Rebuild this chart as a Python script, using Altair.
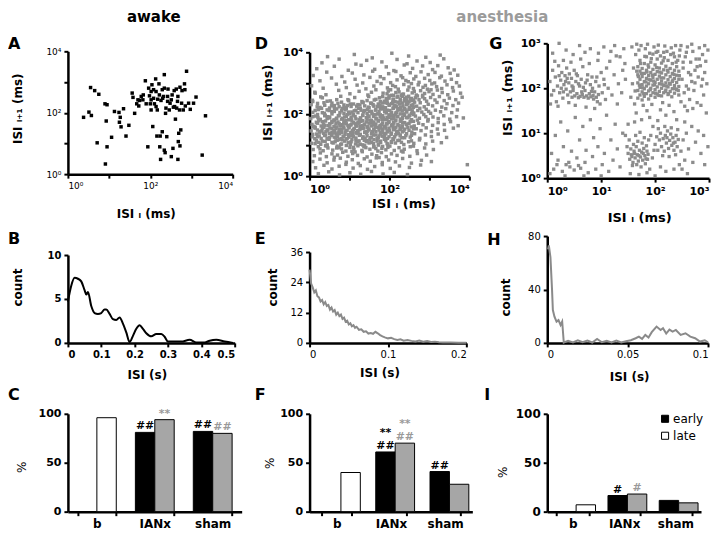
import altair as alt
import pandas as pd

F = "DejaVu Sans"
PT_GRAY = "#8c8c8c"
LINE_GRAY = "#8a8a8a"
TITLE_GRAY = "#9b9b9b"
LATE_GRAY = "#a6a6a6"
ANNOT_GRAY = "#9a9a9a"

# ---------------- A: awake return map, (log10 ISI_i, log10 ISI_i+1) in ms
A_points = [
    (0.38, 1.85), (0.51, 2.02), (0.57, 1.91), (0.55, 2.82), (0.65, 2.72), (0.75, 2.60),
    (0.71, 1.02), (0.90, 2.29), (0.95, 2.26), (0.93, 1.73), (0.95, 0.89), (0.91, 0.33),
    (1.06, 1.20), (1.13, 2.04), (1.24, 2.01), (1.27, 1.85), (1.25, 1.69), (1.29, 1.54),
    (1.35, 2.13), (1.41, 1.24), (1.48, 1.59), (1.56, 2.64), (1.58, 2.50), (1.62, 1.98),
    (1.67, 2.29), (1.70, 2.42), (1.74, 2.40), (1.72, 2.22), (1.78, 2.53), (1.83, 2.58),
    (1.88, 3.04), (1.90, 2.29), (1.94, 0.89), (1.96, 2.80), (1.98, 2.55), (2.00, 2.29),
    (2.02, 2.69), (2.02, 2.09), (2.04, 2.91), (2.06, 1.55), (2.08, 2.47), (2.10, 2.29),
    (2.13, 3.10), (2.14, 2.69), (2.14, 2.20), (2.16, 1.24), (2.17, 2.09), (2.18, 2.44),
    (2.21, 2.94), (2.22, 2.58), (2.23, 0.89), (2.24, 1.24), (2.25, 0.48), (2.26, 2.40),
    (2.29, 2.75), (2.29, 1.38), (2.30, 2.47), (2.32, 2.53), (2.34, 2.80), (2.34, 3.24),
    (2.34, 0.78), (2.36, 0.70), (2.37, 1.98), (2.40, 1.22), (2.42, 2.37), (2.43, 2.77),
    (2.46, 2.09), (2.48, 2.31), (2.51, 0.57), (2.53, 2.58), (2.55, 0.84), (2.56, 2.18),
    (2.58, 2.72), (2.59, 2.20), (2.61, 1.79), (2.63, 2.77), (2.64, 2.15), (2.66, 2.37),
    (2.67, 0.48), (2.68, 1.06), (2.69, 1.33), (2.71, 2.09), (2.72, 2.83), (2.72, 0.92),
    (2.74, 1.44), (2.76, 2.31), (2.77, 2.72), (2.80, 2.09), (2.83, 2.94), (2.84, 2.75),
    (2.85, 2.22), (2.88, 3.35), (2.93, 2.31), (2.97, 2.11), (3.05, 2.31), (3.11, 2.51),
    (3.26, 0.62), (3.34, 1.90), (1.82, 2.42), (2.02, 2.42), (2.42, 2.53), (2.51, 2.42),
    (2.38, 2.15), (2.67, 2.53), (2.08, 2.75),
]

# ---------------- D: anesthesia return map (log10 ms)
D_core = {
    1.21: [1.12, 1.47, 1.73, 2.05, 2.31], 1.27: [1.03, 1.35, 1.61, 1.88, 2.19],
    1.33: [1.22, 1.54, 1.79, 1.97, 2.38], 1.38: [0.98, 1.41, 1.66, 2.12, 2.27],
    1.44: [1.15, 1.30, 1.58, 1.84, 2.03, 2.44], 1.49: [1.07, 1.49, 1.71, 1.93, 2.21],
    1.55: [1.26, 1.38, 1.62, 1.80, 2.09, 2.35], 1.61: [0.94, 1.18, 1.52, 1.75, 1.99, 2.26],
    1.66: [1.33, 1.44, 1.68, 1.87, 2.15, 2.48], 1.72: [1.01, 1.24, 1.57, 1.79, 2.02, 2.33],
    1.77: [1.13, 1.40, 1.64, 1.91, 2.18, 2.41], 1.83: [0.96, 1.29, 1.51, 1.72, 1.95, 2.24, 2.57],
    1.88: [1.19, 1.36, 1.60, 1.83, 2.08, 2.37], 1.94: [1.05, 1.46, 1.69, 1.90, 2.13, 2.45, 2.66],
    1.99: [1.27, 1.55, 1.76, 1.98, 2.29, 2.52], 2.05: [1.09, 1.39, 1.63, 1.85, 2.06, 2.34, 2.61],
    2.10: [1.21, 1.50, 1.74, 1.96, 2.20, 2.48], 2.16: [1.34, 1.58, 1.81, 2.04, 2.27, 2.70],
    2.21: [1.15, 1.45, 1.67, 1.92, 2.14, 2.39, 2.58], 2.27: [1.30, 1.54, 1.78, 2.01, 2.23, 2.49],
    2.32: [1.43, 1.62, 1.86, 2.11, 2.36, 2.64], 2.38: [1.24, 1.52, 1.73, 1.97, 2.19, 2.43],
    2.43: [1.37, 1.66, 1.89, 2.07, 2.31, 2.55], 2.49: [1.48, 1.70, 1.94, 2.16, 2.40],
    2.55: [1.32, 1.59, 1.82, 2.03, 2.28, 2.51], 2.60: [1.53, 1.77, 1.99, 2.22, 2.46],
}
D_left = {
    0.08: [1.35, 1.92, 2.41], 0.14: [1.05, 1.58, 2.12, 2.68], 0.20: [1.27, 1.71, 1.99, 2.35],
    0.26: [0.88, 1.44, 1.83, 2.22], 0.32: [1.13, 1.56, 1.76, 2.05, 2.53],
    0.38: [1.31, 1.64, 1.95, 2.29], 0.44: [0.97, 1.22, 1.49, 1.86, 2.14, 2.42],
    0.50: [1.38, 1.68, 1.91, 2.20], 0.56: [1.09, 1.53, 1.74, 2.01, 2.36],
    0.62: [1.26, 1.45, 1.81, 2.09, 2.28], 0.68: [0.91, 1.36, 1.59, 1.87, 2.17, 2.47],
    0.74: [1.18, 1.50, 1.70, 1.96, 2.24], 0.80: [1.04, 1.41, 1.63, 1.84, 2.11, 2.39],
    0.86: [1.29, 1.55, 1.77, 2.02, 2.30], 0.92: [0.99, 1.20, 1.47, 1.69, 1.93, 2.18],
    0.98: [1.34, 1.60, 1.82, 2.07, 2.44], 1.04: [1.11, 1.42, 1.66, 1.89, 2.25],
    1.10: [0.93, 1.28, 1.51, 1.73, 2.00, 2.33], 1.16: [1.16, 1.39, 1.62, 1.85, 2.13],
}
D_top = [
    (0.45, 3.86), (1.12, 3.93), (1.57, 3.82), (2.06, 3.97), (2.48, 3.88), (2.91, 3.84), (3.27, 3.91),
    (0.31, 3.66), (0.74, 3.78), (1.16, 3.62), (1.43, 3.74), (1.81, 3.69), (2.19, 3.77), (2.44, 3.63),
    (2.69, 3.72), (3.02, 3.67), (3.36, 3.79),
    (0.18, 3.47), (0.62, 3.55), (0.97, 3.42), (1.29, 3.58), (1.63, 3.45), (1.92, 3.53), (2.11, 3.41),
    (2.37, 3.59), (2.58, 3.48), (2.83, 3.56), (3.08, 3.44), (3.21, 3.57), (3.47, 3.50), (3.62, 3.43),
    (0.09, 3.25), (0.43, 3.36), (0.81, 3.22), (1.07, 3.33), (1.36, 3.27), (1.58, 3.39), (1.77, 3.21),
    (1.98, 3.31), (2.16, 3.38), (2.29, 3.24), (2.52, 3.34), (2.66, 3.22), (2.79, 3.37), (2.97, 3.28),
    (3.14, 3.35), (3.30, 3.23), (3.52, 3.32), (3.71, 3.26),
    (0.26, 3.08), (0.55, 3.17), (0.88, 3.04), (1.14, 3.13), (1.33, 3.01), (1.51, 3.19), (1.69, 3.06),
    (1.86, 3.15), (2.03, 3.02), (2.19, 3.11), (2.33, 3.18), (2.47, 3.05), (2.61, 3.14), (2.74, 3.03),
    (2.88, 3.16), (3.01, 3.09), (3.13, 3.01), (3.26, 3.18), (3.39, 3.07), (3.55, 3.13), (3.68, 3.02),
    (2.41, 3.09),
    (0.05, 2.92), (0.34, 2.84), (0.67, 2.97), (0.92, 2.86), (1.19, 2.94), (1.41, 2.82), (1.61, 2.91),
    (1.79, 2.99), (1.95, 2.85), (2.08, 2.93), (2.22, 2.81), (2.36, 2.96), (2.49, 2.88), (2.60, 2.83),
    (2.72, 2.95), (2.84, 2.87), (2.95, 2.81), (3.06, 2.98), (3.18, 2.89), (3.31, 2.83), (3.44, 2.95),
    (3.58, 2.86), (3.75, 2.91), (2.15, 2.89), (2.55, 2.99), (2.90, 2.93),
    (0.13, 2.71), (0.41, 2.63), (0.73, 2.77), (1.01, 2.66), (1.24, 2.74), (1.46, 2.62), (1.66, 2.79),
    (1.84, 2.68), (1.97, 2.75), (2.10, 2.61), (2.24, 2.72), (2.35, 2.65), (2.46, 2.78), (2.57, 2.69),
    (2.67, 2.62), (2.78, 2.76), (2.88, 2.67), (2.99, 2.73), (3.09, 2.64), (3.20, 2.78), (3.32, 2.70),
    (3.46, 2.63), (3.60, 2.75), (3.78, 2.68), (2.03, 2.79), (2.30, 2.61), (2.62, 2.74), (2.83, 2.61),
    (3.04, 2.79), (1.55, 2.71),
    (0.07, 2.45), (0.28, 2.56), (0.52, 2.43), (0.78, 2.58), (0.96, 2.47), (1.13, 2.54), (1.31, 2.41),
    (1.48, 2.57), (1.62, 2.46), (1.75, 2.53), (1.87, 2.42), (1.99, 2.59), (2.09, 2.48), (2.19, 2.55),
    (2.28, 2.43), (2.38, 2.51), (2.48, 2.58), (2.56, 2.44), (2.65, 2.53), (2.74, 2.47), (2.83, 2.56),
    (2.93, 2.42), (3.03, 2.54), (3.14, 2.46), (3.25, 2.57), (3.37, 2.44), (3.50, 2.52), (3.66, 2.47),
    (3.82, 2.55), (2.14, 2.41), (2.33, 2.58), (2.52, 2.49), (2.70, 2.59), (2.88, 2.50), (1.92, 2.51),
    (2.43, 2.45),
]
D_mid = [
    (0.04, 2.31), (0.19, 2.24), (0.36, 2.37), (0.55, 2.27), (0.71, 2.35), (0.87, 2.22), (1.02, 2.33),
    (1.18, 2.26), (1.34, 2.38), (1.47, 2.23), (1.59, 2.31), (1.70, 2.25), (1.81, 2.36), (1.90, 2.21),
    (2.00, 2.30), (2.08, 2.38), (2.17, 2.24), (2.25, 2.33), (2.34, 2.27), (2.42, 2.39), (2.50, 2.22),
    (2.59, 2.31), (2.68, 2.26), (2.77, 2.37), (2.87, 2.24), (2.97, 2.32), (3.08, 2.27), (3.19, 2.38),
    (3.31, 2.23), (3.44, 2.34), (3.59, 2.28), (3.73, 2.36), (1.26, 2.30), (1.53, 2.36), (1.76, 2.28),
    (1.95, 2.35), (2.12, 2.29), (2.29, 2.21), (2.46, 2.34), (2.63, 2.39), (0.95, 2.28), (0.62, 2.21),
    (0.08, 2.06), (0.22, 2.15), (0.37, 2.03), (0.49, 2.12), (0.63, 2.18), (0.76, 2.05), (0.89, 2.14),
    (1.00, 2.01), (1.12, 2.11), (1.23, 2.19), (1.35, 2.07), (1.45, 2.16), (1.56, 2.02), (1.65, 2.13),
    (1.74, 2.08), (1.83, 2.17), (1.92, 2.04), (2.01, 2.12), (2.09, 2.19), (2.18, 2.06), (2.26, 2.14),
    (2.35, 2.01), (2.43, 2.10), (2.52, 2.17), (2.61, 2.04), (2.71, 2.12), (2.81, 2.07), (2.92, 2.16),
    (3.03, 2.03), (3.15, 2.13), (3.28, 2.08), (3.41, 2.18), (3.56, 2.05), (3.70, 2.14), (0.30, 2.19),
    (0.56, 2.08), (0.82, 2.19), (1.06, 2.07), (1.29, 2.13), (1.50, 2.09), (1.70, 2.01), (1.88, 2.11),
    (2.05, 2.05), (2.22, 2.18), (2.39, 2.15), (2.57, 2.11), (2.76, 2.19), (2.98, 2.09),
    (0.03, 1.86), (0.15, 1.94), (0.27, 1.83), (0.39, 1.97), (0.50, 1.88), (0.61, 1.81), (0.72, 1.95),
    (0.83, 1.87), (0.94, 1.99), (1.04, 1.84), (1.14, 1.92), (1.24, 1.82), (1.33, 1.96), (1.42, 1.89),
    (1.51, 1.81), (1.60, 1.93), (1.68, 1.85), (1.77, 1.98), (1.85, 1.88), (1.94, 1.82), (2.02, 1.95),
    (2.11, 1.86), (2.19, 1.93), (2.28, 1.84), (2.37, 1.97), (2.46, 1.89), (2.55, 1.82), (2.65, 1.94),
    (2.75, 1.87), (2.86, 1.99), (2.97, 1.83), (3.09, 1.91), (3.22, 1.86), (3.36, 1.95), (3.51, 1.84),
    (3.68, 1.92), (3.85, 1.88), (0.21, 1.89), (0.45, 1.92), (0.67, 1.86), (0.88, 1.91), (1.09, 1.97),
    (1.28, 1.87), (1.46, 1.95), (1.64, 1.98), (1.81, 1.83), (1.98, 1.90), (2.15, 1.98), (2.33, 1.90),
    (2.51, 1.97), (2.70, 1.81), (2.91, 1.92),
    (0.06, 1.67), (0.17, 1.74), (0.29, 1.62), (0.40, 1.78), (0.51, 1.69), (0.61, 1.61), (0.71, 1.75),
    (0.81, 1.66), (0.91, 1.79), (1.01, 1.64), (1.10, 1.72), (1.19, 1.62), (1.28, 1.77), (1.37, 1.68),
    (1.46, 1.60), (1.55, 1.73), (1.63, 1.65), (1.72, 1.78), (1.81, 1.67), (1.89, 1.61), (1.98, 1.74),
    (2.07, 1.66), (2.15, 1.79), (2.24, 1.63), (2.33, 1.72), (2.42, 1.68), (2.52, 1.76), (2.62, 1.62),
    (2.73, 1.71), (2.84, 1.66), (2.96, 1.78), (3.08, 1.64), (3.22, 1.73), (3.37, 1.67), (3.53, 1.76),
    (3.72, 1.63), (0.11, 1.61), (0.23, 1.79), (0.35, 1.68), (0.46, 1.63), (0.56, 1.77), (0.66, 1.70),
    (0.76, 1.62), (0.86, 1.71), (0.96, 1.63), (1.06, 1.78), (1.15, 1.69), (1.24, 1.71), (1.33, 1.63),
    (1.42, 1.75), (1.59, 1.69), (1.76, 1.61), (1.93, 1.69), (2.11, 1.71), (2.29, 1.77),
    (0.04, 1.46), (0.14, 1.55), (0.25, 1.42), (0.36, 1.58), (0.46, 1.49), (0.56, 1.41), (0.66, 1.53),
    (0.75, 1.45), (0.85, 1.59), (0.94, 1.48), (1.03, 1.40), (1.12, 1.54), (1.21, 1.46), (1.30, 1.57),
    (1.39, 1.43), (1.48, 1.52), (1.57, 1.44), (1.65, 1.58), (1.74, 1.49), (1.83, 1.41), (1.91, 1.55),
    (2.00, 1.47), (2.09, 1.59), (2.18, 1.43), (2.27, 1.51), (2.36, 1.46), (2.46, 1.57), (2.56, 1.42),
    (2.67, 1.53), (2.79, 1.47), (2.92, 1.56), (3.05, 1.44), (3.20, 1.52), (3.38, 1.48), (3.60, 1.55),
    (0.09, 1.59), (0.20, 1.49), (0.31, 1.47), (0.41, 1.44), (0.51, 1.56), (0.61, 1.48), (0.71, 1.40),
    (0.80, 1.51), (0.89, 1.43), (0.99, 1.56), (1.08, 1.47), (1.17, 1.41), (1.26, 1.50), (1.35, 1.55),
    (1.44, 1.45), (1.61, 1.50), (1.79, 1.56), (1.96, 1.43), (2.13, 1.52), (2.32, 1.58),
    (0.07, 1.27), (0.18, 1.36), (0.29, 1.22), (0.40, 1.33), (0.50, 1.25), (0.60, 1.39), (0.70, 1.28),
    (0.79, 1.21), (0.89, 1.35), (0.98, 1.26), (1.07, 1.38), (1.16, 1.23), (1.25, 1.32), (1.34, 1.27),
    (1.43, 1.39), (1.52, 1.24), (1.60, 1.33), (1.69, 1.21), (1.78, 1.36), (1.87, 1.29), (1.95, 1.22),
    (2.04, 1.35), (2.13, 1.27), (2.22, 1.38), (2.31, 1.24), (2.41, 1.31), (2.52, 1.26), (2.63, 1.37),
    (2.76, 1.22), (2.90, 1.33), (3.05, 1.28), (3.22, 1.36), (3.43, 1.25), (0.13, 1.21), (0.24, 1.30),
    (0.35, 1.38), (0.45, 1.20), (0.55, 1.31), (0.65, 1.23), (0.75, 1.37), (0.84, 1.28), (0.94, 1.21),
    (1.03, 1.30), (1.21, 1.37), (1.39, 1.22), (1.56, 1.38), (1.74, 1.30), (1.91, 1.37), (2.09, 1.21),
    (2.27, 1.33),
    (0.05, 1.06), (0.17, 1.15), (0.28, 1.03), (0.39, 1.12), (0.49, 1.19), (0.59, 1.07), (0.69, 1.16),
    (0.78, 1.02), (0.88, 1.13), (0.97, 1.08), (1.06, 1.18), (1.15, 1.04), (1.24, 1.14), (1.33, 1.01),
    (1.42, 1.11), (1.51, 1.17), (1.60, 1.05), (1.69, 1.13), (1.78, 1.09), (1.87, 1.19), (1.96, 1.03),
    (2.05, 1.12), (2.15, 1.07), (2.25, 1.16), (2.36, 1.02), (2.48, 1.11), (2.61, 1.06), (2.75, 1.17),
    (2.91, 1.04), (3.08, 1.13), (3.30, 1.08), (0.23, 1.09), (0.44, 1.01), (0.64, 1.11), (0.83, 1.17),
    (1.02, 1.03), (1.19, 1.10), (1.37, 1.16), (1.55, 1.09), (1.73, 1.01), (1.91, 1.14), (2.10, 1.18),
    (2.30, 1.09), (2.55, 1.14),
]
D_low = [
    (0.09, 0.86), (0.22, 0.95), (0.34, 0.82), (0.46, 0.91), (0.58, 0.84), (0.69, 0.97), (0.80, 0.88),
    (0.91, 0.81), (1.01, 0.93), (1.11, 0.86), (1.21, 0.98), (1.31, 0.83), (1.41, 0.92), (1.51, 0.87),
    (1.61, 0.96), (1.71, 0.81), (1.81, 0.90), (1.91, 0.85), (2.01, 0.97), (2.12, 0.83), (2.24, 0.92),
    (2.37, 0.87), (2.52, 0.95), (2.69, 0.82), (2.88, 0.91), (3.10, 0.86), (0.40, 0.98), (0.74, 0.92),
    (1.06, 0.80), (1.36, 0.95), (1.66, 0.89), (1.96, 0.93), (2.30, 0.81), (2.60, 0.97),
    (0.12, 0.66), (0.27, 0.75), (0.42, 0.63), (0.56, 0.72), (0.70, 0.68), (0.83, 0.77), (0.96, 0.64),
    (1.08, 0.73), (1.20, 0.67), (1.32, 0.79), (1.44, 0.62), (1.56, 0.71), (1.68, 0.66), (1.80, 0.76),
    (1.92, 0.63), (2.05, 0.72), (2.19, 0.67), (2.34, 0.78), (2.51, 0.64), (2.70, 0.73), (2.93, 0.68),
    (0.62, 0.61), (1.14, 0.78), (1.74, 0.60),
    (0.08, 0.47), (0.26, 0.55), (0.44, 0.43), (0.61, 0.52), (0.77, 0.58), (0.92, 0.45), (1.07, 0.53),
    (1.22, 0.41), (1.37, 0.56), (1.52, 0.48), (1.67, 0.59), (1.82, 0.44), (1.98, 0.52), (2.15, 0.46),
    (2.33, 0.57), (2.55, 0.42), (2.80, 0.51), (3.05, 0.47),
    (0.15, 0.27), (0.36, 0.35), (0.56, 0.23), (0.74, 0.32), (0.91, 0.38), (1.09, 0.26), (1.27, 0.34),
    (1.45, 0.22), (1.63, 0.31), (1.82, 0.37), (2.02, 0.25), (2.25, 0.33), (2.50, 0.28), (2.78, 0.36),
    (0.22, 0.08), (0.48, 0.14), (0.75, 0.04), (1.01, 0.11), (1.28, 0.06), (1.55, 0.15), (1.84, 0.07),
    (2.12, 0.12), (2.45, 0.05), (3.95, 0.37),
]

# ---------------- G: anesthesia return map, second unit (log10 ms)
G_upper_left = [
    (0.05, 2.15), (0.08, 1.85), (0.10, 2.40), (0.12, 1.95), (0.15, 2.25), (0.17, 1.70),
    (0.19, 2.05), (0.21, 2.50), (0.23, 1.90), (0.25, 2.18), (0.27, 2.35), (0.29, 1.78),
    (0.31, 2.08), (0.33, 2.28), (0.35, 1.98), (0.36, 2.45), (0.38, 1.85), (0.40, 2.12),
    (0.41, 2.32), (0.43, 1.92), (0.45, 2.22), (0.46, 1.80), (0.48, 2.02), (0.50, 2.40),
    (0.51, 1.83), (0.53, 2.15), (0.55, 1.88), (0.56, 2.28), (0.58, 1.79), (0.60, 2.05),
    (0.61, 1.82), (0.63, 2.20), (0.65, 1.86), (0.66, 2.48), (0.68, 1.80), (0.70, 1.95),
    (0.71, 2.12), (0.73, 1.83), (0.75, 2.30), (0.76, 1.78), (0.78, 1.88), (0.80, 2.08),
    (0.81, 1.81), (0.83, 2.25), (0.85, 1.84), (0.86, 1.76), (0.88, 1.92), (0.90, 2.15),
    (0.91, 1.80), (0.93, 1.70), (0.95, 1.86), (0.96, 2.05), (0.98, 1.65), (1.00, 2.35),
    (1.02, 1.90), (1.05, 2.20), (1.08, 1.75), (1.10, 2.45), (1.13, 2.00), (1.16, 2.60),
    (1.20, 1.85), (1.24, 2.30), (1.28, 2.72), (1.32, 2.10),
    (0.14, 2.60), (0.30, 2.62), (0.44, 2.58), (0.62, 2.65), (0.78, 2.55), (0.94, 2.62),
    (0.20, 1.60), (0.52, 1.62), (0.72, 1.58), (0.88, 1.55), (0.40, 1.68), (0.06, 1.65),
    (0.34, 2.15), (0.58, 2.10), (0.46, 2.05), (0.26, 2.00), (0.67, 2.02), (0.84, 2.00),
    (0.37, 2.22), (0.54, 2.32), (0.22, 2.28), (0.74, 2.18), (0.92, 2.25), (0.64, 1.92),
    (0.48, 1.95), (0.30, 1.92), (0.82, 1.93), (1.06, 2.08),
    (0.22, 3.00), (0.35, 2.85), (0.48, 2.75), (0.60, 2.95), (0.80, 2.88), (0.95, 2.78),
    (1.05, 2.92), (1.18, 2.82), (1.25, 2.95), (1.35, 2.70), (1.42, 2.88), (0.10, 2.78),
    (0.70, 2.80), (1.40, 2.40), (1.45, 2.20), (1.38, 1.90), (1.30, 1.65), (1.44, 2.55),
]
G_core = {
    1.68: [1.78, 1.95, 2.12, 2.30, 2.48], 1.72: [1.85, 2.02, 2.20, 2.38, 2.62],
    1.76: [1.74, 1.92, 2.08, 2.26, 2.44], 1.80: [1.82, 1.99, 2.15, 2.33, 2.55],
    1.84: [1.88, 2.05, 2.22, 2.40, 2.70], 1.88: [1.76, 1.94, 2.10, 2.28, 2.47],
    1.92: [1.84, 2.00, 2.18, 2.35, 2.58], 1.96: [1.90, 2.07, 2.24, 2.42, 2.76],
    2.00: [1.80, 1.97, 2.13, 2.31, 2.52], 2.04: [1.87, 2.03, 2.20, 2.37, 2.65],
    2.08: [1.93, 2.10, 2.27, 2.45], 2.12: [1.83, 2.00, 2.16, 2.34, 2.56],
    2.16: [1.90, 2.06, 2.23, 2.41, 2.80], 2.20: [1.96, 2.12, 2.30, 2.49],
    2.24: [1.86, 2.03, 2.19, 2.36, 2.62], 2.28: [1.93, 2.09, 2.26, 2.44],
    2.32: [1.99, 2.15, 2.33, 2.55], 2.36: [1.89, 2.06, 2.22, 2.40, 2.70],
    2.40: [1.97, 2.13, 2.29, 2.48], 2.44: [1.85, 2.04, 2.20, 2.38],
}
G_core_extra = [
    (1.71, 2.07), (1.75, 2.33), (1.79, 1.88), (1.83, 2.14), (1.87, 2.52), (1.91, 1.97), (1.95, 2.29),
    (1.99, 2.08), (2.03, 2.46), (2.07, 1.84), (2.11, 2.23), (2.15, 2.61), (2.19, 1.93), (2.23, 2.40),
    (2.27, 2.11), (2.31, 1.81), (2.35, 2.31), (2.39, 2.58), (2.43, 1.95), (1.73, 2.55), (1.81, 2.71),
    (1.93, 2.66), (2.05, 2.82), (2.17, 2.68), (2.29, 2.75), (1.69, 2.26), (1.85, 2.36), (1.97, 2.16),
    (2.09, 2.36), (2.21, 2.05), (2.33, 2.18), (2.45, 2.28), (1.77, 2.01), (1.89, 2.19), (2.01, 1.89),
    (2.13, 2.09), (2.25, 1.88), (2.37, 1.99), (1.63, 1.94), (1.66, 2.38),
]
G_upper_right = [
    (1.55, 1.80), (1.58, 2.10), (1.60, 2.45), (1.62, 1.65), (1.64, 2.75), (1.57, 2.92),
    (1.66, 2.98), (1.70, 2.85), (1.74, 2.95), (1.78, 1.62), (1.82, 2.88), (1.86, 2.98),
    (1.90, 2.78), (1.94, 1.64), (1.98, 2.92), (2.02, 2.80), (2.06, 2.96), (2.10, 2.72),
    (2.14, 1.68), (2.18, 2.94), (2.22, 2.82), (2.26, 1.62), (2.30, 2.90), (2.34, 2.78),
    (2.38, 2.95), (2.42, 2.62), (2.46, 2.85), (2.48, 1.70), (2.50, 2.20), (2.52, 2.45),
    (2.54, 1.90), (2.56, 2.70), (2.58, 2.05), (2.60, 2.92), (2.62, 2.35), (2.64, 1.75),
    (2.66, 2.58), (2.68, 2.15), (2.70, 2.82), (2.72, 1.95), (2.74, 2.40), (2.76, 2.65),
    (2.78, 1.68), (2.80, 2.25), (2.82, 2.90), (2.84, 2.50), (2.86, 2.05), (2.88, 2.75),
    (2.90, 1.85), (2.92, 2.35), (2.94, 2.60), (2.96, 2.10), (2.98, 2.85), (2.55, 1.60),
    (2.70, 1.55), (2.85, 1.62), (2.95, 1.45), (2.60, 1.50), (2.45, 2.72), (2.52, 2.58),
    (2.66, 2.30), (2.78, 2.48), (2.88, 2.20), (2.62, 1.98), (2.74, 2.12), (2.58, 2.80),
    (2.48, 2.95), (2.68, 2.98), (2.82, 2.65), (2.92, 2.95),
]
G_lower_right = [
    (1.50, 0.55), (1.53, 0.42), (1.55, 0.65), (1.57, 0.48), (1.59, 0.35), (1.61, 0.60),
    (1.63, 0.45), (1.65, 0.70), (1.67, 0.52), (1.69, 0.38), (1.71, 0.62), (1.73, 0.47),
    (1.75, 0.58), (1.77, 0.40), (1.79, 0.66), (1.81, 0.50), (1.83, 0.43), (1.85, 0.60),
    (1.87, 0.53), (1.60, 0.75), (1.68, 0.82), (1.76, 0.78), (1.84, 0.72), (1.58, 0.28),
    (1.66, 0.30), (1.74, 0.25), (1.82, 0.32), (1.52, 0.85), (1.64, 0.95), (1.72, 1.02),
    (1.80, 0.90), (1.88, 0.85), (1.62, 0.55), (1.70, 0.50), (1.78, 0.55), (1.56, 0.52),
    (1.86, 0.42),
    (2.00, 0.75), (2.03, 0.92), (2.05, 0.62), (2.08, 0.85), (2.10, 1.00), (2.12, 0.70),
    (2.15, 0.88), (2.17, 0.60), (2.19, 0.95), (2.21, 0.78), (2.23, 1.05), (2.25, 0.66),
    (2.27, 0.84), (2.29, 0.98), (2.31, 0.73), (2.33, 0.90), (2.35, 0.62), (2.37, 0.80),
    (2.39, 0.95), (2.41, 0.70), (2.43, 0.86), (2.06, 1.10), (2.18, 1.15), (2.30, 1.12),
    (2.42, 1.08), (2.14, 0.50), (2.26, 0.48), (2.38, 0.52), (2.22, 0.90), (2.34, 0.78),
    (1.90, 0.20), (1.95, 0.45), (1.98, 0.62), (1.92, 0.95), (1.96, 1.15), (2.48, 0.60),
    (2.52, 0.85), (2.55, 0.40), (2.58, 1.00), (2.50, 0.20), (2.62, 0.65), (2.45, 0.30),
    (2.10, 0.25), (2.20, 0.15), (2.35, 0.20), (2.60, 0.10), (2.70, 0.35), (2.75, 0.80),
    (2.85, 0.55), (2.92, 0.30), (1.54, 0.10), (1.70, 0.08), (1.85, 0.12), (2.00, 0.05),
    (1.48, 0.70), (1.45, 0.95), (1.50, 1.20), (1.62, 1.25), (1.75, 1.30), (1.90, 1.35),
    (2.05, 1.28), (2.20, 1.40), (2.40, 1.30), (2.55, 1.25), (2.68, 1.15), (2.80, 1.05),
    (2.90, 0.95), (2.98, 0.70), (1.65, 1.45), (1.85, 1.50), (2.10, 1.52), (2.35, 1.48),
]
G_lower_left = [
    (0.08, 0.55), (0.12, 0.20), (0.15, 0.95), (0.20, 0.40), (0.25, 1.25), (0.28, 0.15),
    (0.30, 0.70), (0.35, 0.30), (0.38, 1.05), (0.42, 0.25), (0.45, 0.60), (0.50, 0.18),
    (0.52, 1.35), (0.55, 0.45), (0.60, 0.85), (0.62, 0.22), (0.66, 1.15), (0.70, 0.35),
    (0.72, 0.62), (0.76, 0.12), (0.80, 1.30), (0.84, 0.48), (0.86, 0.90), (0.90, 0.20),
    (0.94, 0.70), (0.98, 1.10), (1.02, 0.30), (1.06, 0.55), (1.10, 1.40), (1.14, 0.15),
    (1.18, 0.85), (1.22, 0.40), (1.26, 1.20), (1.30, 0.65), (1.35, 0.25), (1.40, 1.00),
    (0.18, 0.30), (0.40, 0.35), (0.58, 0.28), (0.05, 0.10), (0.33, 0.05), (0.68, 0.05),
    (1.00, 0.05),
]

# ---------------- B, E, H: ISI histograms (s, count)
B_isi = [0, 0.01, 0.02, 0.03, 0.04, 0.05, 0.055, 0.06, 0.07, 0.08, 0.09, 0.10, 0.11, 0.115,
         0.125, 0.135, 0.145, 0.155, 0.165, 0.175, 0.185, 0.195, 0.205, 0.215, 0.225, 0.235,
         0.25, 0.265, 0.28, 0.29, 0.30, 0.32, 0.34, 0.365, 0.385, 0.41, 0.425, 0.445, 0.47, 0.495]
B_count = [4.7, 6.5, 7.4, 7.3, 7.0, 6.0, 5.5, 5.8, 4.2, 3.4, 3.3, 3.4, 3.8, 3.8,
           3.3, 2.7, 2.6, 2.9, 2.2, 1.2, 0.1, 0.8, 1.6, 2.0, 1.6, 1.1,
           0.75, 1.0, 1.0, 0.7, 0.15, 0.15, 0.15, 0.35, 0.05, 0.05, 0.25, 0.35, 0.15, 0.0]

E_isi = [0, 0.002, 0.004, 0.006, 0.008, 0.010, 0.012, 0.014, 0.016, 0.018, 0.020, 0.022,
         0.024, 0.026, 0.028, 0.030, 0.032, 0.034, 0.036, 0.038, 0.040, 0.042, 0.044, 0.046,
         0.048, 0.050, 0.052, 0.054, 0.056, 0.058, 0.060, 0.063, 0.066, 0.069, 0.072, 0.075,
         0.078, 0.081, 0.084, 0.087, 0.090, 0.093, 0.096, 0.100, 0.104, 0.108, 0.112, 0.116,
         0.120, 0.125, 0.130, 0.135, 0.140, 0.145, 0.150, 0.155, 0.160, 0.165, 0.170, 0.180,
         0.190, 0.200]
E_count = [29, 23.5, 22, 20, 20.8, 18.5, 18, 16.4, 17, 15.3, 16.2, 14.6,
           15, 13.2, 14, 12.4, 13, 11.2, 12, 10.6, 11.2, 9.5, 10, 8.4,
           8.8, 7.3, 7.8, 6.6, 7, 6, 6.4, 5.2, 5.4, 4.4, 4.6, 3.7,
           3.9, 3.6, 4.4, 3.8, 3.1, 2.6, 2.2, 1.8, 2.0, 1.5, 1.2, 1.4,
           0.9, 1.1, 0.8, 0.6, 0.9, 0.5, 0.7, 0.4, 0.5, 0.3, 0.2, 0.2,
           0.1, 0.1]

H_isi = [0.0005, 0.001, 0.002, 0.003, 0.0035, 0.0045, 0.0058, 0.007, 0.0083, 0.0093, 0.0103,
         0.013, 0.016, 0.019, 0.022, 0.025, 0.028, 0.031, 0.034, 0.037, 0.040, 0.043, 0.046,
         0.049, 0.052, 0.055, 0.057, 0.059, 0.061, 0.063, 0.065, 0.068, 0.0705, 0.072, 0.074,
         0.076, 0.078, 0.080, 0.083, 0.086, 0.089, 0.092, 0.095, 0.098, 0.100]
H_count = [70, 73, 64, 39.5, 24.6, 19.6, 15.9, 17, 13.4, 16, 0.3,
           1.5, 0.4, 2.0, 0.5, 1.8, 0.3, 3.0, 0.5, 1.5, 0.3, 1.8, 0.4,
           1.2, 2.0, 3.5, 4.7, 3.0, 6.0, 4.0, 8.0, 12.2, 9.7, 11, 7,
           10, 8.5, 9.7, 6, 7.2, 4.7, 3.5, 1, 2, 0.5]

# ---------------- C, F, I: % of units (b = baseline)
bar_cats = ["b", "IANx", "sham"]
C_early = [None, 81, 82]
C_late = [96, 94, 80]
F_early = [None, 61, 41]
F_late = [40, 70, 28]
I_early = [None, 16.5, 11.5]
I_late = [7, 18, 9]
C_sig_low_early = ["", "##", "##"]
C_sig_low_late = ["", "**", "##"]
C_sig_up_early = ["", "", ""]
C_sig_up_late = ["", "", ""]
F_sig_low_early = ["", "##", "##"]
F_sig_low_late = ["", "##", ""]
F_sig_up_early = ["", "**", ""]
F_sig_up_late = ["", "**", ""]
I_sig_low_early = ["", "#", ""]
I_sig_low_late = ["", "#", ""]
I_sig_up_early = ["", "", ""]
I_sig_up_late = ["", "", ""]

SUP = {0: "\u2070", 1: "\u00b9", 2: "\u00b2", 3: "\u00b3", 4: "\u2074"}


def expand(*dicts):
    return [(x, y) for cols in dicts for x, ys in cols.items() for y in ys]


def pts_df(pairs):
    return pd.DataFrame({"x": [10 ** p[0] for p in pairs], "y": [10 ** p[1] for p in pairs]})


def pow_expr(exps):
    e = "''"
    for k in sorted(exps, reverse=True):
        e = f"(round(log(datum.value)/LN10) == {k}) ? '10{SUP[k]}' : ({e})"
    return e


def base_axis(**kw):
    d = dict(domainColor="black", domainWidth=2.5, tickColor="black", tickWidth=2, tickSize=4,
             labelFont=F, labelColor="black", titleFont=F, titleColor="black", grid=False,
             labelOverlap=False, titleBaseline="middle", titleAlign="center")
    d.update(kw)
    return alt.Axis(**d)


def text_layer(txt, x, y, size, color="black", align="left", weight="bold", opacity=1):
    return alt.Chart(pd.DataFrame({"t": [txt]})).mark_text(
        font=F, fontSize=size, fontWeight=weight, color=color, align=align, baseline="top",
        opacity=opacity,
    ).encode(text="t:N", x=alt.value(x), y=alt.value(y))


# grid geometry (column widths / row heights of the 3x3 grid)
COLW = [174, 170, 162]
ROWH = [135, 120, 98]


def scatter_panel(pairs, color, size, nmax, label_exps, col, xrange_, yrange, xoff, lab_size,
                  lab_w, ttl_size, ytp, xtp):
    ticks = [10 ** k for k in range(nmax + 1)]
    xa = base_axis(values=ticks, labelExpr=pow_expr(label_exps), labelFontSize=lab_size,
                   labelFontWeight=lab_w, labelPadding=3, offset=xoff,
                   title="ISI \u1d62 (ms)", titleFontSize=ttl_size, titleFontWeight="bold",
                   titleX=xtp[0], titleY=xtp[1])
    ya = base_axis(values=ticks, labelExpr=pow_expr(label_exps), labelFontSize=lab_size,
                   labelFontWeight=lab_w, labelPadding=3,
                   title="ISI \u1d62\u208a\u2081 (ms)", titleFontSize=ttl_size,
                   titleFontWeight="bold", titleAngle=-90, titleX=ytp[0], titleY=ytp[1])
    return alt.Chart(pts_df(pairs)).mark_square(size=size, color=color, opacity=1).encode(
        x=alt.X("x:Q", scale=alt.Scale(type="log", domain=[1, 10 ** nmax], range=xrange_), axis=xa),
        y=alt.Y("y:Q", scale=alt.Scale(type="log", domain=[1, 10 ** nmax], range=yrange), axis=ya),
    ).properties(width=COLW[col], height=ROWH[0])


def line_panel(xs, ys, color, xdom, xticks, xfmt, ydom, yticks, col, xrange_, yrange, xoff,
               lab_w, lab_size, ytp, xtp, interp):
    df = pd.DataFrame({"isi": xs, "count": ys})
    xa = base_axis(values=xticks, format=xfmt, labelFontSize=lab_size, labelFontWeight=lab_w,
                   labelPadding=3, offset=xoff, title="ISI (s)", titleFontSize=12,
                   titleFontWeight="bold", titleX=xtp[0], titleY=xtp[1])
    ya = base_axis(values=yticks, labelFontSize=lab_size, labelFontWeight=lab_w, labelPadding=3,
                   title="count", titleFontSize=12, titleFontWeight="bold", titleAngle=-90,
                   titleX=ytp[0], titleY=ytp[1])
    return alt.Chart(df).mark_line(color=color, strokeWidth=2, interpolate=interp).encode(
        x=alt.X("isi:Q", scale=alt.Scale(domain=xdom, range=xrange_), axis=xa),
        y=alt.Y("count:Q", scale=alt.Scale(domain=ydom, range=yrange), axis=ya),
    ).properties(width=COLW[col], height=ROWH[1])


def bar_panel(early, late, le, ll, ue, ul, width, pad, ytp, lab_size, legend):
    rows = []
    for i, c in enumerate(bar_cats):
        if early[i] is not None:
            rows.append(dict(cat=c, slot="early", v=early[i], kind="early",
                             low=le[i], up=ue[i], tc="black"))
        if late[i] is not None:
            rows.append(dict(cat=c, slot="late", v=late[i], kind="late" if c == "b" else "late2",
                             low=ll[i], up=ul[i], tc=ANNOT_GRAY))
    df = pd.DataFrame(rows)
    x = alt.X("cat:N", scale=alt.Scale(domain=bar_cats, paddingInner=pad, paddingOuter=pad / 2),
              axis=base_axis(title=None, tickBand="extent", labelAngle=0, labelFontSize=12,
                             labelFontWeight="bold", labelPadding=3))
    xo = alt.XOffset("slot:N", scale=alt.Scale(domain=["early", "late"], paddingInner=0,
                                               paddingOuter=0))
    y = alt.Y("v:Q", scale=alt.Scale(domain=[0, 100]),
              axis=base_axis(values=[0, 50, 100], labelFontSize=lab_size, labelFontWeight="bold",
                             labelPadding=3, title="%", titleFontSize=12, titleFontWeight="normal",
                             titleAngle=-90, titleX=ytp[0], titleY=ytp[1]))
    if legend:
        lg = alt.Legend(title=None, orient="none", legendX=112, legendY=-1, values=["early", "late"],
                        symbolType="square", symbolSize=50, symbolStrokeColor="black",
                        symbolStrokeWidth=1, labelFont=F, labelFontSize=12, labelColor="black",
                        rowPadding=5, labelOffset=2)
    else:
        lg = None
    color = alt.Color("kind:N", scale=alt.Scale(domain=["early", "late", "late2"],
                                                range=["black", "white", LATE_GRAY]), legend=lg)
    bars = alt.Chart(df).mark_bar(stroke="black", strokeWidth=1).encode(
        x=x, xOffset=xo, y=y, color=color)
    low = alt.Chart(df).mark_text(font=F, fontSize=11, fontWeight="bold", baseline="bottom",
                                  dy=-1).encode(
        x=x, xOffset=xo, y=y, text="low:N", color=alt.Color("tc:N", scale=None))
    up = alt.Chart(df).mark_text(font=F, fontSize=11, fontWeight="bold", baseline="bottom",
                                 dy=-14).encode(
        x=x, xOffset=xo, y=y, text="up:N", color=alt.Color("tc:N", scale=None))
    return (bars + low + up).properties(width=width, height=ROWH[2])


# ---------------- panels
A = alt.layer(
    scatter_panel(A_points, "black", 12, 4, [0, 2, 4], 0, [0, 165], [131, 8], -4, 9, "normal", 12,
                  (-50, 65), (78, 39)),
    text_layer(".", 0, -35, 15, opacity=0),
    text_layer("awake", 86, -33, 15, align="center"),
    text_layer("A", -60, -7, 16),
)
D_pairs = expand(D_core, D_left) + D_top + D_mid + D_low
D = alt.layer(
    scatter_panel(D_pairs, PT_GRAY, 12, 4, [0, 2, 4], 1, [0, 160], [133, 9], -2, 11, "bold", 13,
                  (-42, 59), (94, 27)),
    text_layer("anesthesia", 193, -33, 15, color=TITLE_GRAY, align="center"),
    text_layer("D", -55, -7, 16),
)
G_pairs = G_upper_left + expand(G_core) + G_core_extra + G_upper_right + G_lower_right + G_lower_left
G = alt.layer(
    scatter_panel(G_pairs, PT_GRAY, 11, 3, [0, 1, 2, 3], 2, [0, 162], [135, 0], 0, 11, "bold", 13,
                  (-40, 54), (92, 39)),
    text_layer("G", -58, -7, 16),
)

B = alt.layer(
    line_panel(B_isi, B_count, "black", [0, 0.5], [0, 0.1, 0.2, 0.3, 0.4, 0.5], "~g",
               [0, 10], [0, 5, 10], 0, [0, 167], [107, 19], -13, "bold", 10, (-50, 51), (79, 32),
               "monotone"),
    text_layer("B", -60, -5, 16),
)
E = alt.layer(
    line_panel(E_isi, E_count, LINE_GRAY, [0, 0.2], [0, 0.1, 0.2], "~g",
               [0, 36], [0, 12, 24, 36], 1, [0, 157], [107, 16], -13, "normal", 10, (-37, 51),
               (70, 30), "linear"),
    text_layer("E", -55, -5, 16),
)
H = alt.layer(
    line_panel(H_isi, H_count, LINE_GRAY, [0, 0.1], [0, 0.05, 0.1], "~g",
               [0, 80], [0, 40, 80], 2, [0, 161], [107, 0], -13, "normal", 10, (-42, 61),
               (82, 34), "linear"),
    text_layer("H", -60, -4, 16),
)

C = alt.layer(
    bar_panel(C_early, C_late, C_sig_low_early, C_sig_low_late, C_sig_up_early, C_sig_up_late,
              174, 0.33, (-46, 53), 11, False),
    text_layer("C", -60, -27, 16),
)
Fp = alt.layer(
    bar_panel(F_early, F_late, F_sig_low_early, F_sig_low_late, F_sig_up_early, F_sig_up_late,
              163, 0.44, (-40, 49), 11, False),
    text_layer("F", -55, -27, 16),
)
I = alt.layer(
    bar_panel(I_early, I_late, I_sig_low_early, I_sig_low_late, I_sig_up_early, I_sig_up_late,
              154, 0.37, (-45, 58), 12, True),
    text_layer("I", -63, -27, 16),
)

chart = alt.concat(
    A, D, G, B, E, H, C, Fp, I,
    columns=3, spacing={"row": 58, "column": 68}, bounds="flush",
).resolve_scale(color="independent").properties(padding=0).configure_view(stroke=None)

chart.save("out.html", embed_options={"renderer": "svg", "actions": False})
